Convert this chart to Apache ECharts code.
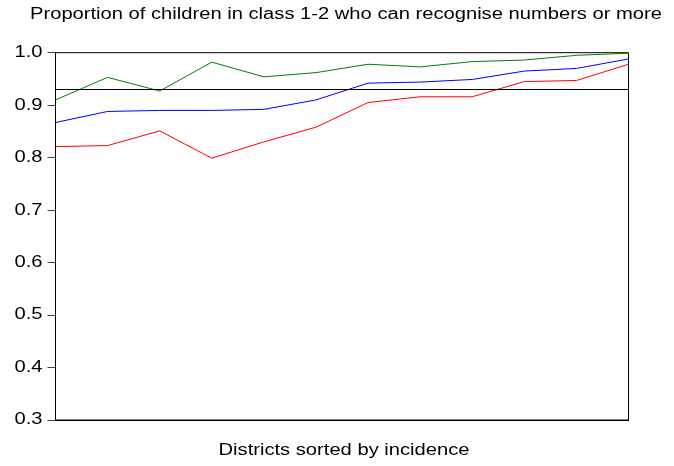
<!DOCTYPE html>
<html><head><meta charset="utf-8">
<script src="https://cdn.jsdelivr.net/npm/echarts@6/dist/echarts.min.js"></script>
<style>html,body{margin:0;padding:0;background:#fff}#c{width:674px;height:466px}</style>
</head><body><div id="c"></div>
<script>
const districts = ['1','2','3','4','5','6','7','8','9','10','11','12'];
const greenSeries = [0.910, 0.953, 0.927, 0.982, 0.954, 0.962, 0.978, 0.973, 0.983, 0.986, 0.995, 0.999];
const blueSeries  = [0.867, 0.888, 0.890, 0.890, 0.892, 0.910, 0.942, 0.944, 0.949, 0.965, 0.970, 0.988];
const redSeries   = [0.821, 0.823, 0.851, 0.799, 0.830, 0.858, 0.905, 0.916, 0.916, 0.945, 0.947, 0.978];
const refLine = 0.934;
const yTicks = [0.3, 0.4, 0.5, 0.6, 0.7, 0.8, 0.9, 1.0];
const titleText = 'Proportion of children in class 1-2 who can recognise numbers or more';
const xAxisTitle = 'Districts sorted by incidence';

const font = '"Liberation Sans", Arial, sans-serif';
const stretch = 1.26;
const chart = echarts.init(document.getElementById('c'), null, {renderer: 'canvas'});
const mk = (name, data, color) => ({
  name, type: 'line', data, symbol: 'none', animation: false,
  lineStyle: {color, width: 1}, itemStyle: {color}
});
const s1 = mk('green', greenSeries, '#008000');
s1.markLine = {
  silent: true, symbol: 'none', animation: false,
  label: {show: false},
  lineStyle: {color: '#000', width: 1, type: 'solid'},
  data: [{yAxis: refLine}]
};
chart.setOption({
  animation: false,
  grid: {left: 55.5, right: 45.5, top: 52.7, bottom: 46, show: true, borderColor: '#000', borderWidth: 1,
         backgroundColor: 'transparent', outerBoundsMode: 'none', containLabel: false},
  xAxis: {
    type: 'category', data: districts, boundaryGap: false,
    axisLine: {show: true, lineStyle: {color: '#000'}},
    axisTick: {show: false}, axisLabel: {show: false}, splitLine: {show: false}
  },
  yAxis: {
    type: 'value', min: 0.3, max: 1.0, interval: 0.1,
    axisLine: {show: true, lineStyle: {color: '#000'}},
    axisTick: {show: true, length: 8, lineStyle: {color: '#444'}},
    axisLabel: {show: false},
    splitLine: {show: false}
  },
  series: [s1, mk('blue', blueSeries, '#0000ff'), mk('red', redSeries, '#ff0000')]
});

const txt = (text, x, y, align) => ({
  type: 'text', x, y, scaleX: stretch, silent: true,
  style: {text, font: '16px ' + font, fill: '#000', textAlign: align, textVerticalAlign: 'middle'}
});
const graphics = [
  txt(titleText, 346, 15, 'center'),
  txt(xAxisTitle, 344, 451, 'center')
];
yTicks.forEach(v => {
  const py = chart.convertToPixel({yAxisIndex: 0}, v);
  graphics.push(txt(v.toFixed(1), 42.5, py, 'right'));
});
chart.setOption({graphic: graphics});
</script></body></html>
